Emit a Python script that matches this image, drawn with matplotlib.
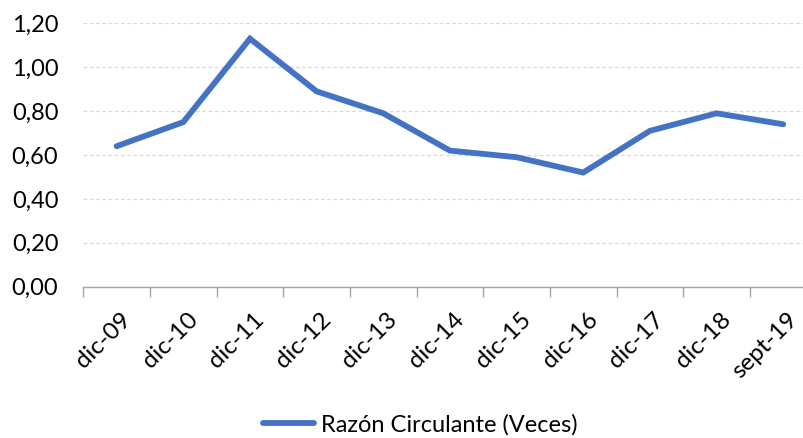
import matplotlib
matplotlib.use('Agg')
import matplotlib.pyplot as plt
import matplotlib.transforms as mtransforms
from matplotlib.ticker import FuncFormatter, MultipleLocator

plt.rcParams['font.family'] = ['Lato', 'DejaVu Sans']

periodos = ['dic-09', 'dic-10', 'dic-11', 'dic-12', 'dic-13', 'dic-14',
            'dic-15', 'dic-16', 'dic-17', 'dic-18', 'sept-19']
razon = [0.64, 0.75, 1.13, 0.89, 0.79, 0.62, 0.59, 0.52, 0.71, 0.79, 0.74]

AZUL = '#4472C4'

fig = plt.figure(figsize=(8.04, 4.38), dpi=100)
# el eje se corta por la derecha, como en la imagen original
ax = fig.add_axes([0.1036, 0.3454, 0.912, 0.6014])

x = list(range(len(periodos)))
ax.plot(x, razon, color=AZUL, lw=4.2, solid_capstyle='round',
        solid_joinstyle='miter', label='Razón Circulante (Veces)', zorder=3)

ax.set_xlim(-0.5, len(periodos) - 0.5)
ax.set_ylim(0, 1.2)
ax.yaxis.set_major_locator(MultipleLocator(0.2))
ax.yaxis.set_major_formatter(FuncFormatter(lambda v, p: f'{v:.2f}'.replace('.', ',')))
ax.grid(axis='y', color='#D9D9D9', linestyle=(0, (3, 2)), lw=0.9)
ax.set_axisbelow(True)

for s in ['top', 'right', 'left']:
    ax.spines[s].set_visible(False)
ax.spines['bottom'].set_color('#A6A6A6')
ax.spines['bottom'].set_linewidth(1.0)

# marcas entre categorias (estilo Excel)
ax.set_xticks([i - 0.5 for i in range(len(periodos) + 1)])
ax.set_xticklabels([])
ax.tick_params(axis='x', direction='out', length=7, color='#A6A6A6', width=1.0)
ax.set_xticks(x, minor=True)
ax.set_xticklabels(periodos, minor=True, rotation=45, ha='right', va='top',
                   rotation_mode='anchor', fontsize=17.5)
ax.tick_params(axis='x', which='minor', length=0, pad=16)
desplaza = mtransforms.ScaledTranslation(2.5 / 72, 0, fig.dpi_scale_trans)
for lbl in ax.get_xticklabels(minor=True):
    lbl.set_transform(lbl.get_transform() + desplaza)
ax.tick_params(axis='y', length=0, labelsize=17, pad=18)

fig.legend(handles=ax.get_lines(), loc='center', bbox_to_anchor=(0.523, 0.03),
           frameon=False, fontsize=17, handlelength=2.15, handletextpad=0.3)

fig.savefig('out.png', dpi=100)
